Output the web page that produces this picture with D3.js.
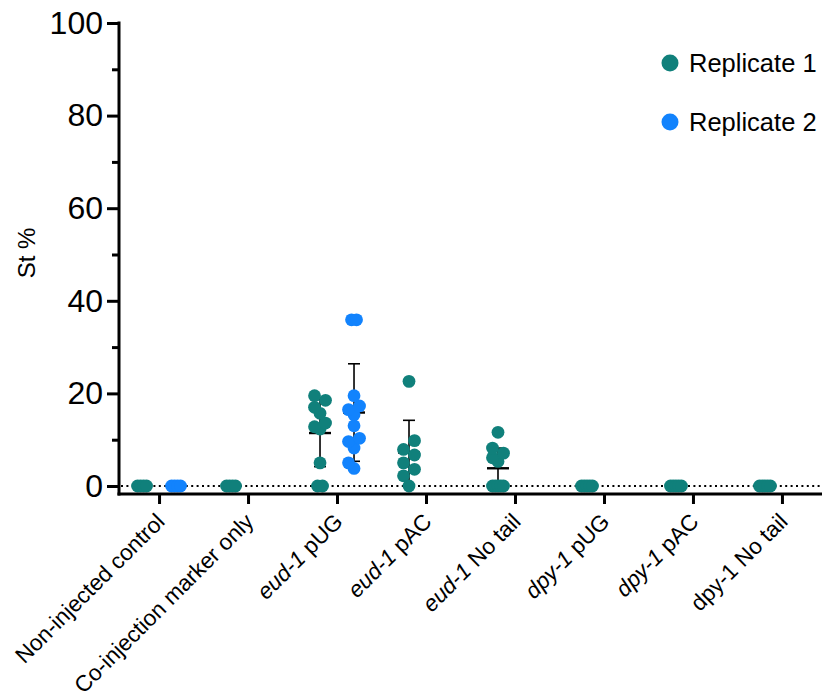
<!DOCTYPE html>
<html>
<head>
<meta charset="utf-8">
<script src="https://cdn.jsdelivr.net/npm/d3@7"></script>
<style>
  html, body { margin: 0; padding: 0; background: #ffffff; }
  svg { display: block; font-family: "Liberation Sans", Arial, Helvetica, sans-serif; }
</style>
</head>
<body>
<svg id="chart" width="824" height="698"></svg>
<script>
// Construct groups on the x axis
const categories = [
  "Non-injected control", "Co-injection marker only",
  "eud-1 pUG", "eud-1 pAC", "eud-1 No tail",
  "dpy-1 pUG", "dpy-1 pAC", "dpy-1 No tail"
];
// Gene-name part of each label that is set in italics
const italicPrefix = ["", "", "eud-1", "eud-1", "eud-1", "dpy-1", "dpy-1", ""];

// St % per line, one array per construct
const replicate1 = [
  [0, 0, 0, 0],
  [0, 0, 0, 0],
  [19.5, 18.5, 17.0, 15.7, 13.6, 12.8, 12.3, 5.0, 0, 0],
  [22.6, 9.8, 7.9, 6.7, 5.0, 3.6, 2.2, 0],
  [11.6, 8.2, 7.1, 6.1, 5.3, 0, 0, 0, 0, 0],
  [0, 0, 0, 0, 0],
  [0, 0, 0, 0, 0],
  [0, 0, 0, 0, 0]
];
const replicate2 = [
  [0, 0, 0, 0],
  [],
  [35.9, 35.9, 19.5, 17.3, 16.5, 15.4, 13.0, 10.3, 9.6, 8.2, 5.0, 3.8],
  [], [], [], [], []
];

const seriesNames = ["Replicate 1", "Replicate 2"];
const seriesColors = ["#10807b", "#1283fd"];
const majorTicks = [0, 20, 40, 60, 80, 100];
const minorTicks = [10, 30, 50, 70, 90];

const svg = d3.select("#chart");
const axisLineY = 494;
const x = d3.scalePoint().domain(categories).range([119, 822]).padding(0.45);
const y = d3.scaleLinear().domain([0, 100]).range([486, 23]);
const seriesOffset = [-17, 17];
const r = 6.4;

// Dotted reference line at zero
svg.append("line")
  .attr("x1", 121).attr("x2", 822)
  .attr("y1", y(0)).attr("y2", y(0))
  .attr("stroke", "#000").attr("stroke-width", 2)
  .attr("stroke-dasharray", "2 3.4");

// Scatter layout: identical values are spread side by side, others swarm in three lanes
function swarm(values, cx) {
  const sorted = values.slice().sort((a, b) => a - b);
  const placed = [];
  const lane = 5.5, minDist = 11;
  let i = 0;
  while (i < sorted.length) {
    let j = i;
    while (j < sorted.length && sorted[j] === sorted[i]) j++;
    const k = j - i, py = y(sorted[i]);
    if (k > 1) {
      const spread = Math.min(11, 5 + 2 * (k - 2));
      for (let m = 0; m < k; m++) {
        placed.push({ v: sorted[i], x: cx - spread / 2 + spread * m / (k - 1), y: py });
      }
    } else {
      let best = null, bestD = -1;
      for (const off of [0, -lane, lane]) {
        const px = cx + off;
        const d = placed.length ? d3.min(placed, p => Math.hypot(p.x - px, p.y - py)) : Infinity;
        if (d >= minDist) { best = px; break; }
        if (d > bestD) { bestD = d; best = px; }
      }
      placed.push({ v: sorted[i], x: best, y: py });
    }
    i = j;
  }
  return placed;
}

const series = [replicate1, replicate2];

// Mean ± SD bars, behind the points
const barG = svg.append("g");
series.forEach((data, s) => {
  data.forEach((vals, c) => {
    if (vals.length < 2) return;
    const m = d3.mean(vals), sd = d3.deviation(vals);
    if (!(sd > 0)) return;
    const cx = x(categories[c]) + seriesOffset[s];
    barG.append("line").attr("x1", cx).attr("x2", cx)
      .attr("y1", y(m + sd)).attr("y2", y(m - sd))
      .attr("stroke", "#000").attr("stroke-width", 1.6);
    [m + sd, m - sd].forEach(v => {
      barG.append("line").attr("x1", cx - 6).attr("x2", cx + 6)
        .attr("y1", y(v)).attr("y2", y(v))
        .attr("stroke", "#000").attr("stroke-width", 1.6);
    });
    barG.append("line").attr("x1", cx - 11).attr("x2", cx + 11)
      .attr("y1", y(m)).attr("y2", y(m))
      .attr("stroke", "#000").attr("stroke-width", 2.4);
  });
});

// Points
const dotG = svg.append("g");
series.forEach((data, s) => {
  data.forEach((vals, c) => {
    if (!vals.length) return;
    const cx = x(categories[c]) + seriesOffset[s];
    dotG.selectAll(null).data(swarm(vals, cx)).enter().append("circle")
      .attr("cx", d => d.x).attr("cy", d => d.y).attr("r", r)
      .attr("fill", seriesColors[s]);
  });
});

// Y axis
const yAxisG = svg.append("g").attr("transform", "translate(119,0)");
yAxisG.call(d3.axisLeft(y).tickValues(majorTicks).tickSize(12).tickPadding(4).tickFormat(d3.format("d")));
yAxisG.select(".domain").remove();
yAxisG.selectAll(".tick line").attr("stroke", "#000").attr("stroke-width", 3);
yAxisG.selectAll(".tick text").attr("font-size", 32).attr("fill", "#000")
  .attr("font-family", "\"Liberation Sans\", Arial, Helvetica, sans-serif");
const yMinorG = svg.append("g").attr("transform", "translate(119,0)");
yMinorG.call(d3.axisLeft(y).tickValues(minorTicks).tickSize(7).tickFormat(""));
yMinorG.select(".domain").remove();
yMinorG.selectAll(".tick line").attr("stroke", "#000").attr("stroke-width", 3);
svg.append("line").attr("x1", 119).attr("x2", 119)
  .attr("y1", y(100) - 1.5).attr("y2", axisLineY + 1.5)
  .attr("stroke", "#000").attr("stroke-width", 3);

// X axis
const xAxisG = svg.append("g").attr("transform", `translate(0,${axisLineY})`);
xAxisG.call(d3.axisBottom(x).tickSize(10).tickFormat(""));
xAxisG.select(".domain").remove();
xAxisG.selectAll(".tick line").attr("stroke", "#000").attr("stroke-width", 3);
svg.append("line").attr("x1", 117.5).attr("x2", 822)
  .attr("y1", axisLineY).attr("y2", axisLineY)
  .attr("stroke", "#000").attr("stroke-width", 3);

// Rotated category labels
categories.forEach((cat, i) => {
  const t = svg.append("text")
    .attr("transform", `translate(${x(cat) + 7},${axisLineY + 29}) rotate(-45)`)
    .attr("text-anchor", "end").attr("font-size", 22.5).attr("fill", "#000");
  const pre = italicPrefix[i];
  if (pre && cat.startsWith(pre)) {
    t.append("tspan").attr("font-style", "italic").text(pre);
    t.append("tspan").text(cat.slice(pre.length));
  } else {
    t.text(cat);
  }
});

// Y axis title
svg.append("text")
  .attr("transform", "translate(35,253) rotate(-90)")
  .attr("text-anchor", "middle").attr("font-size", 24).attr("fill", "#000")
  .text("St %");

// Legend
seriesNames.forEach((name, i) => {
  const ly = 63 + i * 59;
  svg.append("circle").attr("cx", 670).attr("cy", ly).attr("r", 8.5).attr("fill", seriesColors[i]);
  svg.append("text").attr("x", 689).attr("y", ly + 9)
    .attr("font-size", 25.5).attr("fill", "#000").text(name);
});
</script>
</body>
</html>
